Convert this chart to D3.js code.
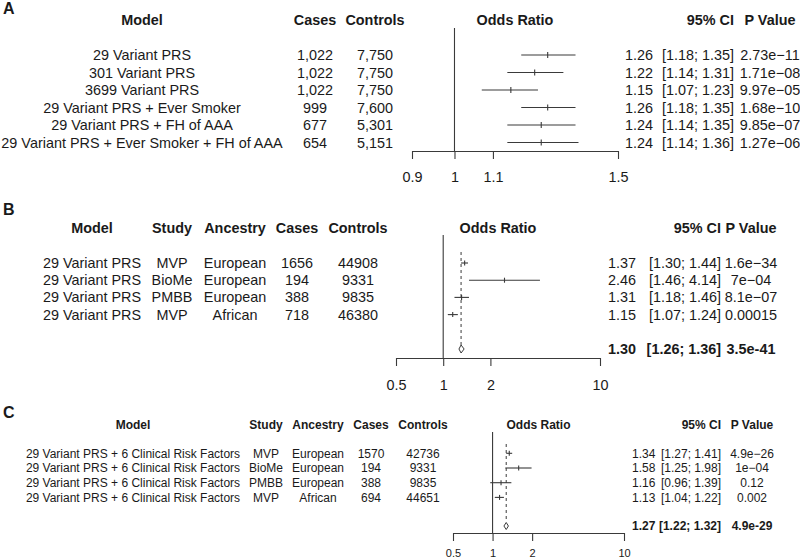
<!DOCTYPE html>
<html><head><meta charset="utf-8">
<script src="https://cdn.jsdelivr.net/npm/d3@7"></script>
<style>body{margin:0;background:#fff}svg{display:block}text{font-family:"Liberation Sans",Arial,Helvetica,sans-serif;fill:#1a1a1a}</style>
</head><body>
<svg id="c" width="800" height="560"></svg>
<script>
// ---------- Panel A data ----------
const modelsA = ["29 Variant PRS","301 Variant PRS","3699 Variant PRS","29 Variant PRS + Ever Smoker","29 Variant PRS + FH of AAA","29 Variant PRS + Ever Smoker + FH of AAA"];
const casesA = ["1,022","1,022","1,022","999","677","654"];
const controlsA = ["7,750","7,750","7,750","7,600","5,301","5,151"];
const orA = [1.26,1.22,1.15,1.26,1.24,1.24];
const loA = [1.18,1.14,1.07,1.18,1.14,1.14];
const hiA = [1.35,1.31,1.23,1.35,1.35,1.36];
const pA = ["2.73e\u221211","1.71e\u221208","9.97e\u221205","1.68e\u221210","9.85e\u221207","1.27e\u221206"];
const ticksA = [0.9,1,1.1,1.5];

// ---------- Panel B data ----------
const modelsB = ["29 Variant PRS","29 Variant PRS","29 Variant PRS","29 Variant PRS"];
const studyB = ["MVP","BioMe","PMBB","MVP"];
const ancestryB = ["European","European","European","African"];
const casesB = ["1656","194","388","718"];
const controlsB = ["44908","9331","9835","46380"];
const orB = [1.37,2.46,1.31,1.15];
const loB = [1.30,1.46,1.18,1.07];
const hiB = [1.44,4.14,1.46,1.24];
const pB = ["1.6e\u221234","7e\u221204","8.1e\u221207","0.00015"];
const sumB = {or:1.30, lo:1.26, hi:1.36, p:"3.5e-41"};
const ticksB = [0.5,1,2,10];

// ---------- Panel C data ----------
const modelsC = ["29 Variant PRS + 6 Clinical Risk Factors","29 Variant PRS + 6 Clinical Risk Factors","29 Variant PRS + 6 Clinical Risk Factors","29 Variant PRS + 6 Clinical Risk Factors"];
const studyC = ["MVP","BioMe","PMBB","MVP"];
const ancestryC = ["European","European","European","African"];
const casesC = ["1570","194","388","694"];
const controlsC = ["42736","9331","9835","44651"];
const orC = [1.34,1.58,1.16,1.13];
const loC = [1.27,1.25,0.96,1.04];
const hiC = [1.41,1.98,1.39,1.22];
const pC = ["4.9e\u221226","1e\u221204","0.12","0.002"];
const sumC = {or:1.27, lo:1.22, hi:1.32, p:"4.9e-29"};
const ticksC = [0.5,1,2,10];

const svg = d3.select("#c");
const fmt = d3.format(".2f");
const lineCol = "#3a3a3a";

function panel(cfg){
  const g = svg.append("g");
  const fs = cfg.fs;
  g.append("text").attr("x",3).attr("y",cfg.letterY).attr("dy","0.35em")
    .style("font-size","16px").style("font-weight","bold").text(cfg.letter);
  cfg.cols.forEach(c=>{
    g.append("text").attr("x",c.x).attr("y",cfg.headY).attr("dy","0.35em")
      .attr("text-anchor","middle").style("font-size",fs+"px").style("font-weight","bold").text(c.head);
    c.values.forEach((v,i)=>{
      g.append("text").attr("x",c.x).attr("y",cfg.rowY(i)).attr("dy","0.35em")
        .attr("text-anchor","middle").style("font-size",fs+"px").text(v);
    });
  });
  const x = d3.scaleLog().domain(cfg.domain).range(cfg.range);
  g.append("text").attr("x",(cfg.range[0]+cfg.range[1])/2).attr("y",cfg.headY).attr("dy","0.35em")
    .attr("text-anchor","middle").style("font-size",fs+"px").style("font-weight","bold").text("Odds Ratio");
  g.append("text").attr("x",cfg.ciEnd).attr("y",cfg.headY).attr("dy","0.35em")
    .attr("text-anchor","end").style("font-size",fs+"px").style("font-weight","bold").text("95% CI");
  g.append("text").attr("x",cfg.pX).attr("y",cfg.headY).attr("dy","0.35em")
    .attr("text-anchor","middle").style("font-size",fs+"px").style("font-weight","bold").text("P Value");

  g.append("line").attr("x1",x(1)).attr("x2",x(1)).attr("y1",cfg.refTop).attr("y2",cfg.axisY)
    .attr("stroke",lineCol).attr("stroke-width",1.1);
  if(cfg.sum){
    g.append("line").attr("x1",x(cfg.sum.or)).attr("x2",x(cfg.sum.or)).attr("y1",cfg.dashTop).attr("y2",cfg.sumY-4)
      .attr("stroke",lineCol).attr("stroke-width",1).attr("stroke-dasharray","3,3");
  }
  cfg.or.forEach((o,i)=>{
    const y = cfg.rowY(i);
    g.append("line").attr("x1",x(cfg.lo[i])).attr("x2",x(cfg.hi[i])).attr("y1",y).attr("y2",y)
      .attr("stroke",lineCol).attr("stroke-width",1.1);
    g.append("line").attr("x1",x(o)).attr("x2",x(o)).attr("y1",y-cfg.tick).attr("y2",y+cfg.tick)
      .attr("stroke",lineCol).attr("stroke-width",1.1);
    g.append("text").attr("x",cfg.orX).attr("y",y).attr("dy","0.35em").style("font-size",fs+"px").text(fmt(o));
    g.append("text").attr("x",cfg.ciEnd).attr("y",y).attr("dy","0.35em").attr("text-anchor","end")
      .style("font-size",fs+"px").text("["+fmt(cfg.lo[i])+"; "+fmt(cfg.hi[i])+"]");
    g.append("text").attr("x",cfg.pX).attr("y",y).attr("dy","0.35em").attr("text-anchor","middle")
      .style("font-size",fs+"px").text(cfg.p[i]);
  });
  if(cfg.sum){
    const s=cfg.sum, y=cfg.sumY, h=cfg.diamH;
    const pts=[[x(s.lo),y],[x(s.or),y-h],[x(s.hi),y],[x(s.or),y+h]];
    g.append("path").attr("d","M"+pts.map(p=>p.join(",")).join("L")+"Z")
      .attr("fill","none").attr("stroke",lineCol).attr("stroke-width",1);
    g.append("text").attr("x",cfg.orX).attr("y",y).attr("dy","0.35em").style("font-size",fs+"px").style("font-weight","bold").text(fmt(s.or));
    g.append("text").attr("x",cfg.ciEnd).attr("y",y).attr("dy","0.35em").attr("text-anchor","end")
      .style("font-size",fs+"px").style("font-weight","bold").text("["+fmt(s.lo)+"; "+fmt(s.hi)+"]");
    g.append("text").attr("x",cfg.pX).attr("y",y).attr("dy","0.35em").attr("text-anchor","middle")
      .style("font-size",fs+"px").style("font-weight","bold").text(s.p);
  }
  const ax = d3.axisBottom(x).tickValues(cfg.ticks).tickFormat(d=>String(d)).tickSize(8).tickSizeOuter(0).tickPadding(cfg.tickPad);
  const ag = g.append("g").attr("transform","translate(0,"+cfg.axisY+")").call(ax);
  ag.select(".domain").attr("stroke",lineCol).attr("stroke-width",1.1);
  ag.selectAll(".tick line").attr("stroke",lineCol).attr("stroke-width",1.1);
  ag.selectAll(".tick text").style("font-size",cfg.tickFs+"px").style("font-family","'Liberation Sans',Arial,sans-serif").attr("fill","#1a1a1a");
}

panel({
  letter:"A", letterY:8, fs:14.4, headY:20,
  rowY:i=>55+i*17.5,
  cols:[
    {head:"Model", x:142, values:modelsA},
    {head:"Cases", x:315, values:casesA},
    {head:"Controls", x:375, values:controlsA}
  ],
  domain:[0.9,1.5], range:[412,618], ticks:ticksA,
  or:orA, lo:loA, hi:hiA, p:pA,
  orX:625, ciEnd:734, pX:770,
  refTop:28, axisY:151, tick:3, tickPad:13, tickFs:14.4
});

panel({
  letter:"B", letterY:209, fs:14.4, headY:228,
  rowY:i=>263+i*17.2,
  cols:[
    {head:"Model", x:92, values:modelsB},
    {head:"Study", x:172, values:studyB},
    {head:"Ancestry", x:235, values:ancestryB},
    {head:"Cases", x:297, values:casesB},
    {head:"Controls", x:358, values:controlsB}
  ],
  domain:[0.5,10], range:[396,600], ticks:ticksB,
  or:orB, lo:loB, hi:hiB, p:pB, sum:sumB, sumY:349, diamH:4, dashTop:252,
  orX:608, ciEnd:721, pX:751,
  refTop:235, axisY:358, tick:2.5, tickPad:14, tickFs:14.4
});

panel({
  letter:"C", letterY:412, fs:12, headY:425,
  rowY:i=>453.3+i*14.7,
  cols:[
    {head:"Model", x:133, values:modelsC},
    {head:"Study", x:266, values:studyC},
    {head:"Ancestry", x:318, values:ancestryC},
    {head:"Cases", x:371, values:casesC},
    {head:"Controls", x:423, values:controlsC}
  ],
  domain:[0.5,10], range:[453,624], ticks:ticksC,
  or:orC, lo:loC, hi:hiC, p:pC, sum:sumC, sumY:526, diamH:3.5, dashTop:444,
  orX:632, ciEnd:721, pX:752,
  refTop:432, axisY:533, tick:2.5, tickPad:8, tickFs:11
});
</script>
</body></html>
